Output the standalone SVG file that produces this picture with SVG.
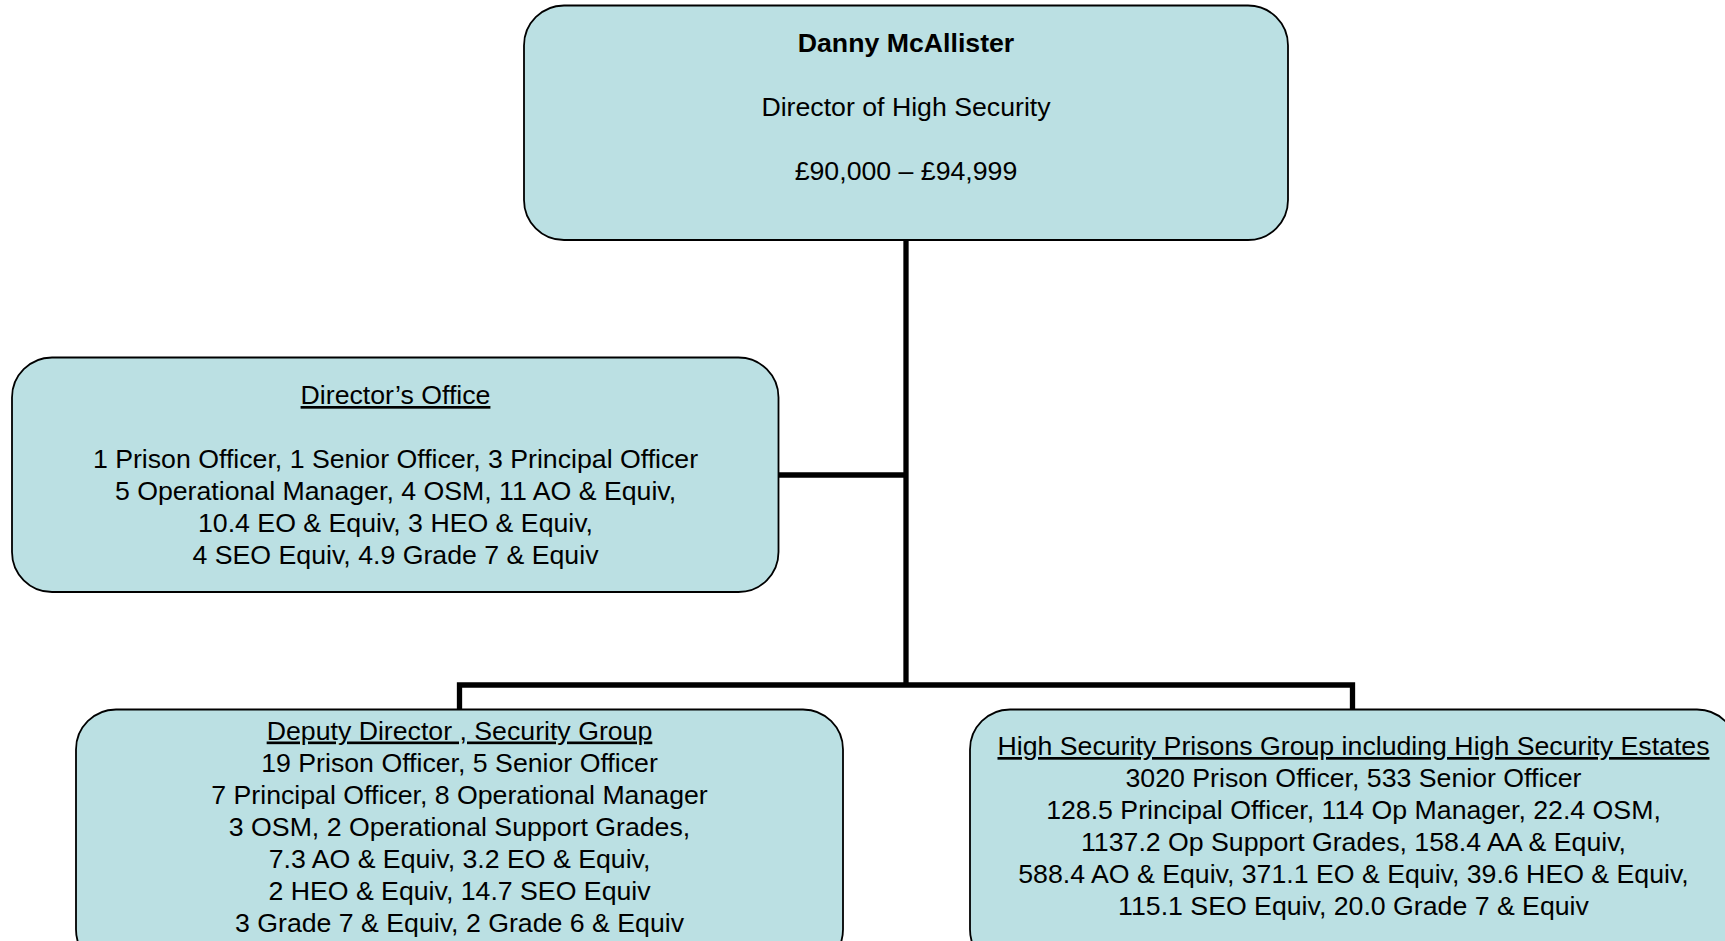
<svg xmlns="http://www.w3.org/2000/svg" width="1725" height="941" viewBox="0 0 1725 941">
<style>
.box{fill:#BBE0E3;stroke:#000;stroke-width:1.8}
.t{font-family:"Liberation Sans",Arial,sans-serif;font-size:26.7px;fill:#000;text-anchor:middle}
.b{font-weight:bold}
.u{text-decoration:underline}
.c{fill:none;stroke:#000;stroke-width:5.3}
</style>
<rect width="1725" height="941" fill="#fff"/>
<g id="connectors">
<path class="c" d="M906 240V685"/>
<path class="c" d="M779 475H906"/>
<path class="c" d="M459.5 709V685H1352.5V709"/>
</g>
<g id="director">
<rect class="box" x="524" y="5.5" width="764" height="234.5" rx="40"/>
<text class="t b" x="906" y="52">Danny McAllister</text>
<text class="t" x="906" y="116">Director of High Security</text>
<text class="t" x="906" y="180">£90,000 – £94,999</text>
</g>
<g id="directors-office">
<rect class="box" x="12" y="357.5" width="766.5" height="234.5" rx="40"/>
<text class="t u" x="395.5" y="404">Director’s Office</text>
<text class="t" x="395.5" y="468">1 Prison Officer, 1 Senior Officer, 3 Principal Officer</text>
<text class="t" x="395.5" y="500">5 Operational Manager, 4 OSM, 11 AO &amp; Equiv,</text>
<text class="t" x="395.5" y="532">10.4 EO &amp; Equiv, 3 HEO &amp; Equiv,</text>
<text class="t" x="395.5" y="564">4 SEO Equiv, 4.9 Grade 7 &amp; Equiv</text>
</g>
<g id="deputy-director">
<rect class="box" x="76" y="709.5" width="767" height="260" rx="40"/>
<text class="t u" x="459.5" y="739.5">Deputy Director , Security Group</text>
<text class="t" x="459.5" y="771.5">19 Prison Officer, 5 Senior Officer</text>
<text class="t" x="459.5" y="803.5">7 Principal Officer, 8 Operational Manager</text>
<text class="t" x="459.5" y="835.5">3 OSM, 2 Operational Support Grades,</text>
<text class="t" x="459.5" y="867.5">7.3 AO &amp; Equiv, 3.2 EO &amp; Equiv,</text>
<text class="t" x="459.5" y="899.5">2 HEO &amp; Equiv, 14.7 SEO Equiv</text>
<text class="t" x="459.5" y="931.5">3 Grade 7 &amp; Equiv, 2 Grade 6 &amp; Equiv</text>
</g>
<g id="high-security-prisons">
<rect class="box" x="970" y="709.5" width="767" height="260" rx="40"/>
<text class="t u" x="1353.5" y="755">High Security Prisons Group including High Security Estates</text>
<text class="t" x="1353.5" y="787">3020 Prison Officer, 533 Senior Officer</text>
<text class="t" x="1353.5" y="819">128.5 Principal Officer, 114 Op Manager, 22.4 OSM,</text>
<text class="t" x="1353.5" y="851">1137.2 Op Support Grades, 158.4 AA &amp; Equiv,</text>
<text class="t" x="1353.5" y="883">588.4 AO &amp; Equiv, 371.1 EO &amp; Equiv, 39.6 HEO &amp; Equiv,</text>
<text class="t" x="1353.5" y="915">115.1 SEO Equiv, 20.0 Grade 7 &amp; Equiv</text>
</g>
</svg>
